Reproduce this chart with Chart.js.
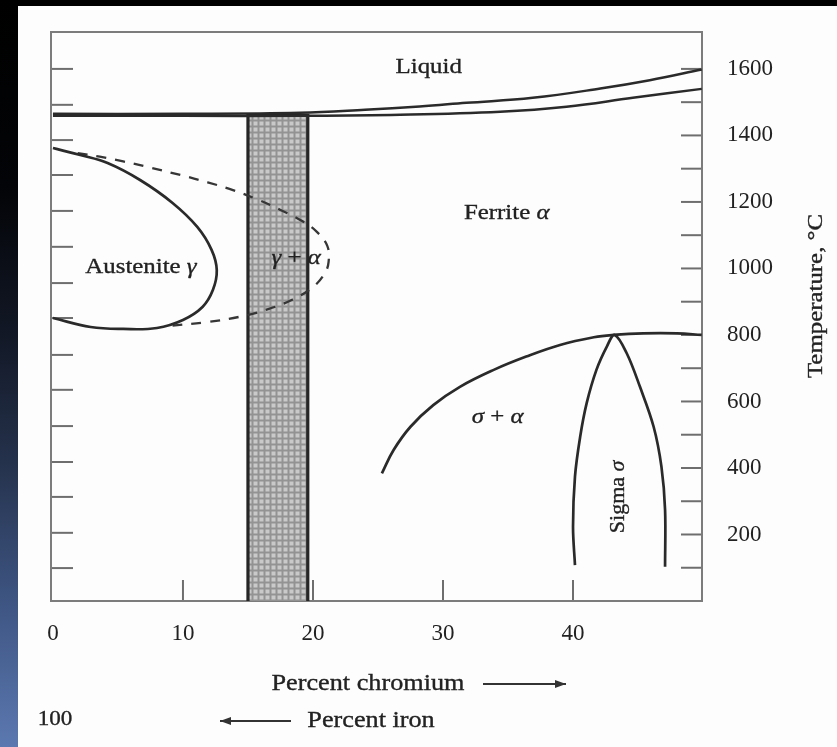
<!DOCTYPE html>
<html>
<head>
<meta charset="utf-8">
<script src="https://cdn.jsdelivr.net/npm/chart.js@4.4.1/dist/chart.umd.min.js"></script>
<style>
html,body{margin:0;padding:0;background:#fdfdfd;overflow:hidden}
#wrap{position:relative;width:837px;height:747px;background:#fdfdfd}
#topband{position:absolute;left:0;top:0;width:837px;height:6px;background:#000}
#leftband{position:absolute;left:0;top:0;width:18px;height:747px;
  background:linear-gradient(to bottom,#000 0%,#030407 25%,#121826 45%,#25324c 62%,#3d5481 80%,#5b78b0 100%)}
#box{position:absolute;left:0;top:0;width:837px;height:747px}
</style>
</head>
<body>
<div id="wrap">
  <div id="topband"></div>
  <div id="leftband"></div>
  <div id="box"><canvas id="c"></canvas></div>
</div>
<script>
// ---------- axis ticks ----------
const xTickLabels = [0, 10, 20, 30, 40];
const xTickMarks = [10, 20, 30, 40];
const yTickLabels = [200, 400, 600, 800, 1000, 1200, 1400, 1600];
const yTickMarks = [100, 200, 300, 400, 500, 600, 700, 800, 900, 1000, 1100, 1200, 1300, 1400, 1500, 1600];
const leftTickMarks = [99, 205, 313, 418, 526, 635, 740, 851, 956, 1065, 1173, 1281, 1386, 1492, 1600];

// ---------- liquidus / solidus ----------
const liqUpperX = [0, 10, 19, 24, 28.2, 31.8, 36.9, 42.1, 45.9, 49.9];
const liqUpperY = [1465, 1465, 1468, 1477, 1487, 1498, 1513, 1541, 1566, 1598];
const liqLowerX = [0, 10, 19, 26.7, 34.4, 39.5, 44.6, 49.9];
const liqLowerY = [1459, 1459, 1459, 1462, 1471, 1486, 1513, 1540];

// ---------- shaded band (stainless range) ----------
const bandX = [15, 15, 19.6, 19.6];
const bandY = [0, 1460, 1460, 0];

// ---------- austenite (gamma) loop ----------
const gammaX = [0, 2.1, 4.2, 6.7, 9.2, 11.1, 12.2, 12.6, 12.3, 11.5, 10.0, 8.0, 5.4, 2.9, 0];
const gammaY = [1362, 1341, 1317, 1266, 1197, 1125, 1056, 995, 935, 884, 845, 821, 818, 824, 851];

// ---------- gamma + alpha boundary (dashed) ----------
const gaX = [1.9, 3.6, 5.4, 7.5, 9.8, 11.9, 13.9, 15.7, 17.5, 19.2, 20.3, 21.1, 21.2, 20.9, 20.0, 18.4, 16.5, 14.4, 11.9, 9.2];
const gaY = [1347, 1336, 1322, 1303, 1281, 1259, 1235, 1208, 1176, 1142, 1110, 1068, 1020, 985, 944, 906, 877, 855, 839, 828];

// ---------- sigma + alpha boundary ----------
const saX = [25.3, 26.2, 27.5, 29.25, 31.3, 33.9, 36.4, 39.0, 41.6, 43.1, 45.4, 48.0, 49.9];
const saY = [384, 454, 524, 589, 644, 695, 735, 770, 793, 800, 805, 805, 800];

// ---------- sigma phase ----------
const sigmaX = [40.15, 40.0, 40.15, 40.55, 41.05, 41.8, 42.6, 43.2, 44.13, 45.15, 46.2, 46.8, 47.08, 47.08];
const sigmaY = [108, 223, 374, 494, 595, 695, 765, 800, 745, 644, 524, 404, 274, 103];

const pts = (xs, ys) => xs.map((x, i) => ({x: x, y: ys[i]}));

// crosshatch pattern for the band
function makePattern() {
  const p = document.createElement('canvas');
  p.width = 6; p.height = 6;
  const g = p.getContext('2d');
  g.fillStyle = '#939393'; g.fillRect(0, 0, 6, 6);
  g.fillStyle = '#c9c9c9'; g.fillRect(1.5, 1.5, 4, 4);
  return g.createPattern(p, 'repeat');
}

const LINE = '#2a2a2a';
const TXT = '#222';
const SERIF = '"Liberation Serif", "Times New Roman", serif';

function drawRich(ctx, parts, cx, cy, size, rot, stretch) {
  ctx.save();
  ctx.translate(cx, cy);
  ctx.rotate(rot || 0);
  ctx.scale(stretch || 1, 1);
  let total = 0;
  parts.forEach(p => {
    ctx.font = (p.i ? 'italic ' : '') + size + 'px ' + SERIF;
    p.w = ctx.measureText(p.t).width;
    total += p.w;
  });
  let x = -total / 2;
  ctx.textBaseline = 'middle';
  ctx.textAlign = 'left';
  ctx.fillStyle = TXT;
  ctx.strokeStyle = TXT;
  ctx.lineWidth = 0.35;
  parts.forEach(p => {
    ctx.font = (p.i ? 'italic ' : '') + size + 'px ' + SERIF;
    ctx.fillText(p.t, x, 0);
    ctx.strokeText(p.t, x, 0);
    x += p.w;
  });
  ctx.restore();
}

function arrow(ctx, x1, x2, y, headAtEnd) {
  ctx.save();
  ctx.strokeStyle = '#333'; ctx.fillStyle = '#333'; ctx.lineWidth = 1.8;
  ctx.beginPath(); ctx.moveTo(x1, y); ctx.lineTo(x2, y); ctx.stroke();
  const hx = headAtEnd ? x2 : x1;
  const d = headAtEnd ? -1 : 1;
  ctx.beginPath();
  ctx.moveTo(hx, y);
  ctx.lineTo(hx + d * 11, y - 4);
  ctx.lineTo(hx + d * 11, y + 4);
  ctx.closePath(); ctx.fill();
  ctx.restore();
}

const framePlugin = {
  id: 'frame',
  beforeDatasetsDraw(chart) {
    const ctx = chart.ctx, a = chart.chartArea;
    const xs = chart.scales.x, ys = chart.scales.y;
    ctx.save();
    ctx.strokeStyle = '#6e6e6e';
    ctx.lineWidth = 2;
    xTickMarks.forEach(v => {
      const px = xs.getPixelForValue(v);
      ctx.beginPath(); ctx.moveTo(px, a.bottom); ctx.lineTo(px, a.bottom - 21); ctx.stroke();
    });
    yTickMarks.forEach(v => {
      const py = ys.getPixelForValue(v);
      ctx.beginPath(); ctx.moveTo(a.right, py); ctx.lineTo(a.right - 21, py); ctx.stroke();
    });
    leftTickMarks.forEach(v => {
      const py = ys.getPixelForValue(v);
      ctx.beginPath(); ctx.moveTo(a.left, py); ctx.lineTo(a.left + 22, py); ctx.stroke();
    });
    ctx.strokeStyle = '#7c7c7c';
    ctx.strokeRect(a.left, a.top, a.right - a.left, a.bottom - a.top);
    ctx.restore();
  },
  afterDraw(chart) {
    const ctx = chart.ctx;
    const xs = chart.scales.x, ys = chart.scales.y;
    const X = v => xs.getPixelForValue(v), Y = v => ys.getPixelForValue(v);
    const S = 1.13;
    drawRich(ctx, [{t: 'Liquid'}], X(28.9), Y(1606), 22, 0, S);
    drawRich(ctx, [{t: 'Ferrite '}, {t: 'α', i: true}], X(34.9), Y(1167), 22, 0, S);
    drawRich(ctx, [{t: 'Austenite '}, {t: 'γ', i: true}], X(6.77), Y(1004), 22, 0, S);
    drawRich(ctx, [{t: 'γ', i: true}, {t: ' + '}, {t: 'α', i: true}], X(18.7), Y(1032), 22, 0, S);
    drawRich(ctx, [{t: 'σ', i: true}, {t: ' + '}, {t: 'α', i: true}], X(34.2), Y(553), 22, 0, S);
    drawRich(ctx, [{t: 'Sigma '}, {t: 'σ', i: true}], X(43.5), Y(313), 20, -Math.PI / 2, 1.1);
    drawRich(ctx, [{t: 'Temperature, °C'}], 816, 296, 22, -Math.PI / 2, S);
    drawRich(ctx, [{t: 'Percent chromium'}], 368, 684, 23, 0, 1.14);
    arrow(ctx, 483, 566, 684, true);
    drawRich(ctx, [{t: 'Percent iron'}], 371, 721, 23, 0, 1.14);
    arrow(ctx, 220, 291, 721, false);
    drawRich(ctx, [{t: '100'}], 55, 719, 22, 0, 1.05);
  }
};

const lineDs = (data, extra) => Object.assign({
  data: data, showLine: true, borderColor: LINE, borderWidth: 2.7,
  pointRadius: 0, tension: 0.4, fill: false, order: 1
}, extra || {});

new Chart(document.getElementById('c'), {
  type: 'scatter',
  data: {
    datasets: [
      lineDs(pts(bandX, bandY), {tension: 0, fill: 'origin', backgroundColor: makePattern(), borderColor: '#262626', borderWidth: 3.2, order: 10}),
      lineDs(pts(liqUpperX, liqUpperY), {borderWidth: 2.5}),
      lineDs(pts(liqLowerX, liqLowerY), {borderWidth: 2.5}),
      lineDs(pts(gammaX, gammaY)),
      lineDs(pts(gaX, gaY), {borderDash: [10, 9], borderWidth: 2.3, borderColor: '#363636'}),
      lineDs(pts(saX, saY)),
      lineDs(pts(sigmaX, sigmaY), {tension: 0.35})
    ]
  },
  options: {
    responsive: true,
    maintainAspectRatio: false,
    animation: false,
    layout: {padding: {top: 32, left: 51, right: 0, bottom: 0}},
    plugins: {legend: {display: false}, tooltip: {enabled: false}},
    scales: {
      x: {
        type: 'linear', position: 'bottom', min: -0.15, max: 49.92,
        grid: {display: false, drawTicks: false}, border: {display: false},
        afterBuildTicks: s => { s.ticks = xTickLabels.map(v => ({value: v})); },
        afterFit: s => { s.height = 146; s.paddingLeft = 0; s.paddingRight = 0; },
        ticks: {font: {family: SERIF, size: 23}, color: TXT, padding: 19, maxRotation: 0, autoSkip: false,
                callback: v => String(v)}
      },
      y: {
        type: 'linear', position: 'right', min: 0, max: 1711,
        grid: {display: false, drawTicks: false}, border: {display: false},
        afterBuildTicks: s => { s.ticks = yTickLabels.map(v => ({value: v})); },
        afterFit: s => { s.width = 135; s.paddingTop = 0; s.paddingBottom = 0; },
        ticks: {font: {family: SERIF, size: 23}, color: TXT, padding: 25, autoSkip: false,
                callback: v => String(v)}
      }
    }
  },
  plugins: [framePlugin]
});
</script>
</body>
</html>
